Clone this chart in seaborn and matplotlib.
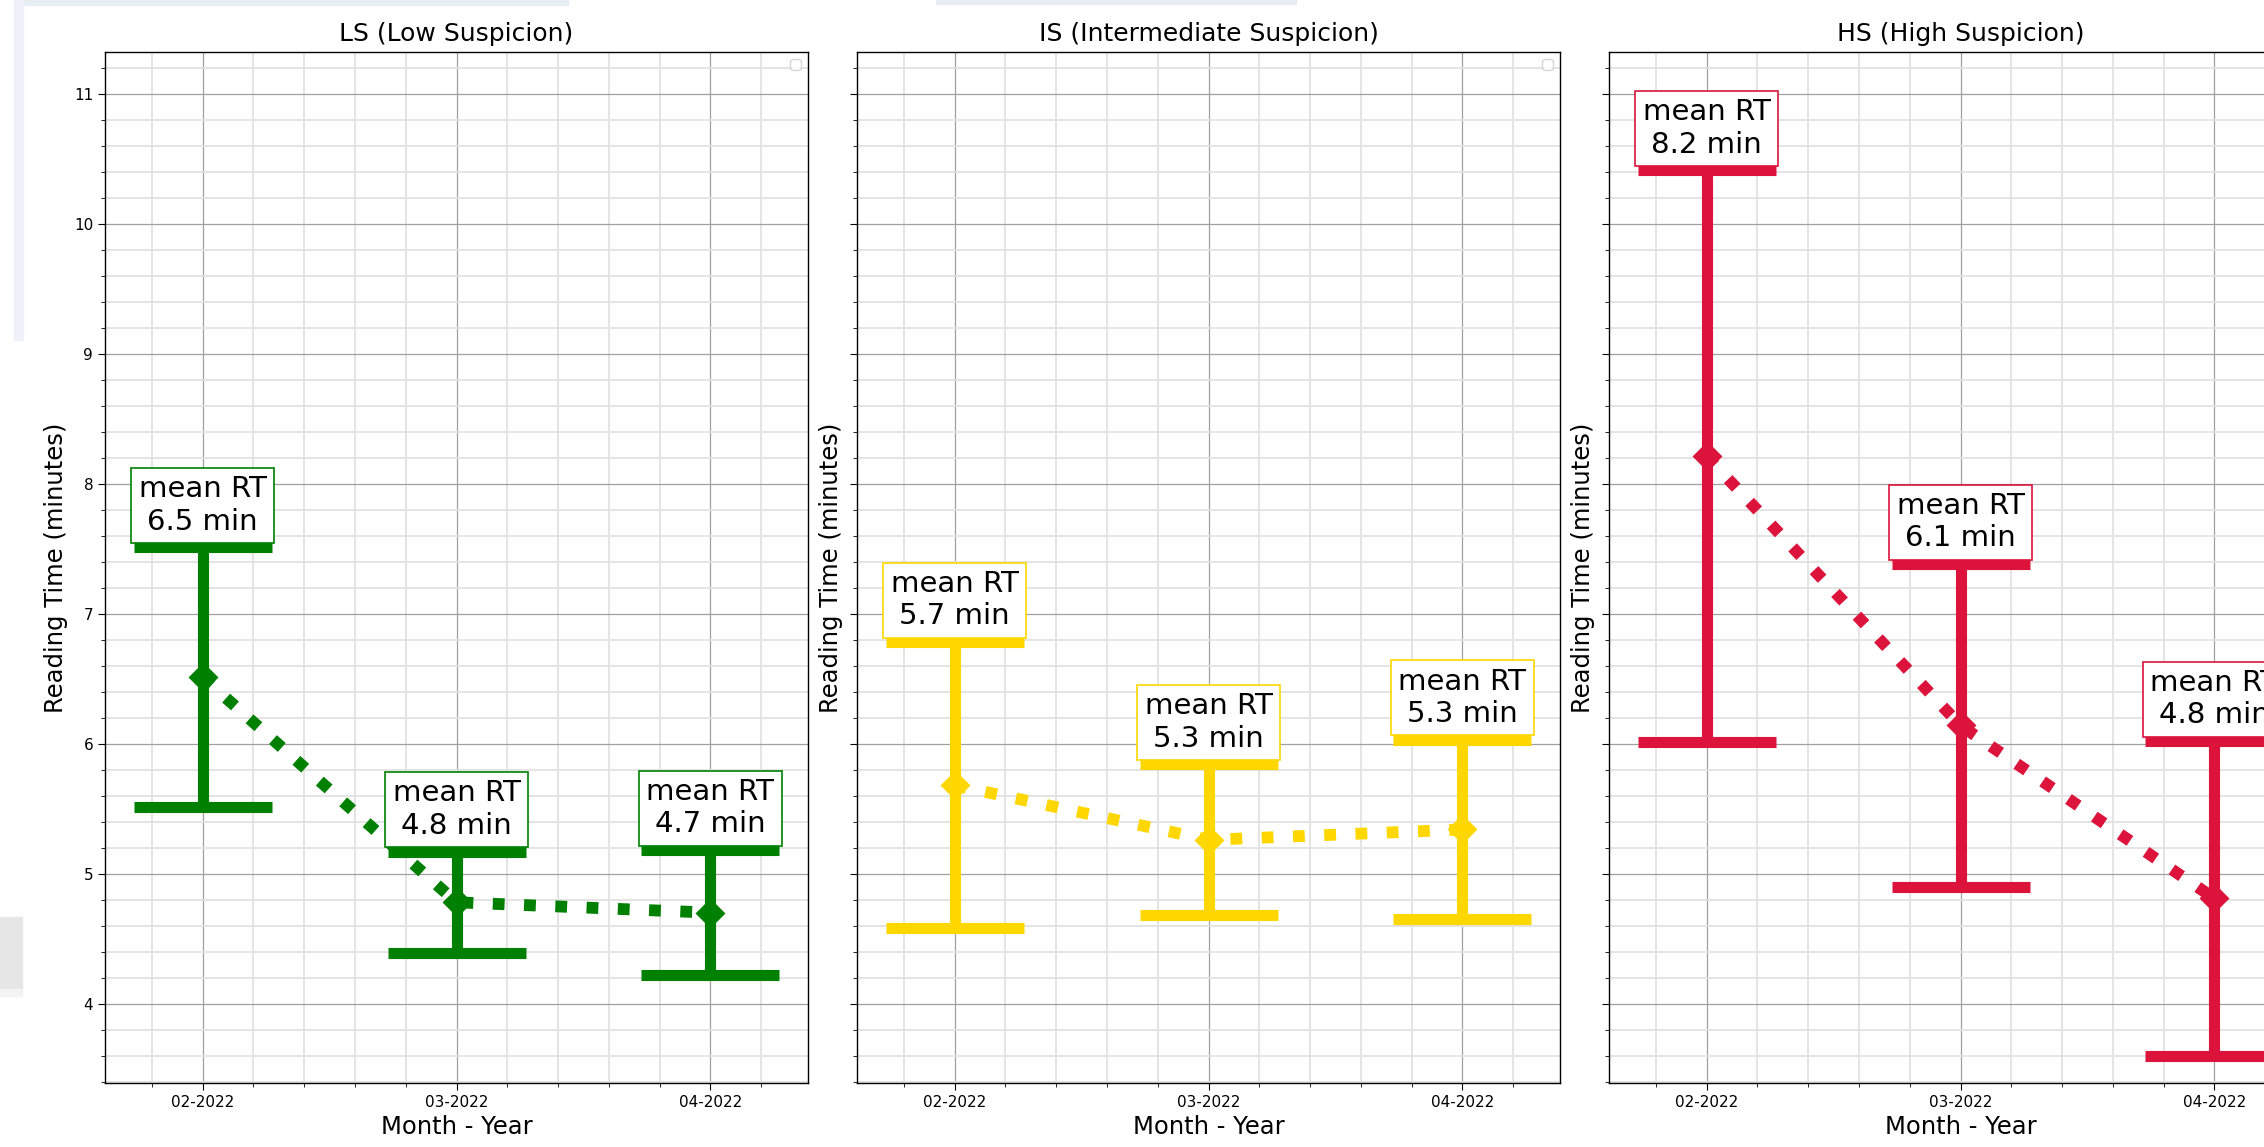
import matplotlib
matplotlib.use("Agg")
import matplotlib.pyplot as plt
from matplotlib.patches import Rectangle
from matplotlib.ticker import MultipleLocator
import pandas as pd
import seaborn as sns

# Months on the x axis and the three suspicion groups
months = ["02-2022", "03-2022", "04-2022"]
groups = ["LS (Low Suspicion)", "IS (Intermediate Suspicion)", "HS (High Suspicion)"]
colors = ["green", "gold", "crimson"]

# Mean reading time (minutes) and error half-width per month
ls_mean = [6.51, 4.78, 4.70]
ls_err = [1.00, 0.39, 0.48]
is_mean = [5.68, 5.26, 5.34]
is_err = [1.10, 0.58, 0.69]
hs_mean = [8.21, 6.14, 4.81]
hs_err = [2.20, 1.24, 1.21]

means = [ls_mean, is_mean, hs_mean]
errs = [ls_err, is_err, hs_err]

W, H = 2264, 1147
fig = plt.figure(figsize=(W / 100, H / 100), dpi=100)
fig.patch.set_facecolor("white")

# light window-chrome strips around the figure
def strip(x0, y0, x1, y1, color):
    fig.patches.append(Rectangle((x0 / W, 1 - y1 / H), (x1 - x0) / W, (y1 - y0) / H,
                                 transform=fig.transFigure, color=color, zorder=-5))

strip(23, 0, 568, 5, "#e8edf4")
strip(14, 0, 23, 340, "#eef2f8")
strip(936, 0, 1296, 4, "#e8edf4")
strip(0, 917, 22, 989, "#e6e6e6")
strip(0, 989, 22, 996, "#f3f3f3")

ax_w = 703 / W
ax_h = 1031 / H
ax_b = (H - 1083) / H
lefts = [105 / W, 857 / W, 1609 / W]

axes = []
for i, left in enumerate(lefts):
    if i == 0:
        ax = fig.add_axes([left, ax_b, ax_w, ax_h])
    else:
        ax = fig.add_axes([left, ax_b, ax_w, ax_h], sharey=axes[0])
    axes.append(ax)

for i, ax in enumerate(axes):
    color = colors[i]
    df = pd.DataFrame({"month": months, "rt": means[i]})
    sns.pointplot(data=df, x="month", y="rt", color=color, markers="D",
                  linestyles=":", errorbar=None, linewidth=8.5,
                  markersize=13.5, markeredgewidth=2, ax=ax, zorder=3)
    ax.errorbar(range(len(months)), means[i], yerr=errs[i], fmt="none",
                ecolor=color, elinewidth=8, capsize=50, capthick=8, zorder=2)
    for j, (m, e) in enumerate(zip(means[i], errs[i])):
        ax.annotate(f"mean RT\n{m:.1f} min", xy=(j, m + e), xytext=(0, 8.5),
                    textcoords="offset points", ha="center", va="bottom",
                    fontsize=21, zorder=5,
                    bbox=dict(boxstyle="square,pad=0.25", fc="white", ec=color, lw=1.2))

    ax.set_xlim(-0.385, 2.385)
    ax.set_ylim(3.39, 11.32)
    ax.yaxis.set_major_locator(MultipleLocator(1))
    ax.yaxis.set_minor_locator(MultipleLocator(0.2))
    ax.xaxis.set_minor_locator(MultipleLocator(0.2))
    ax.grid(True, which="major", color="#a0a0a0", linewidth=0.9)
    ax.grid(True, which="minor", color="#e2e2e2", linewidth=1.3)
    ax.set_axisbelow(True)
    ax.tick_params(axis="both", which="major", labelsize=11, length=5)
    ax.tick_params(axis="both", which="minor", length=3)
    if i > 0:
        ax.tick_params(axis="y", labelleft=False)
    ax.set_title(groups[i], fontsize=18, pad=8)
    ax.set_xlabel("Month - Year", fontsize=17.5)
    ax.set_ylabel("Reading Time (minutes)", fontsize=17.5)
    for sp in ax.spines.values():
        sp.set_color("black")
        sp.set_linewidth(1)
    ax.legend(handles=[], loc="upper right")

fig.savefig("out.png", dpi=100)
